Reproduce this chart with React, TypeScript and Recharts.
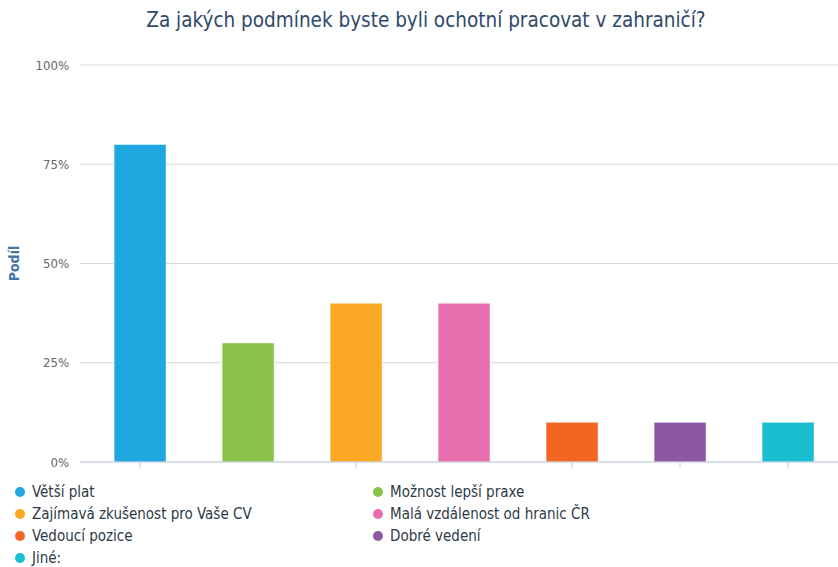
import { Bar, BarChart, CartesianGrid, Cell, Label, XAxis, YAxis } from "recharts";

const categories = [
  "Větší plat",
  "Možnost lepší praxe",
  "Zajímavá zkušenost pro Vaše CV",
  "Malá vzdálenost od hranic ČR",
  "Vedoucí pozice",
  "Dobré vedení",
  "Jiné:",
];
const shares = [80, 30, 40, 40, 10, 10, 10];
const colors = ["#1fa8e0", "#8bc34a", "#fba826", "#e86fad", "#f26522", "#8e57a3", "#1bbecf"];
const yTicks = [0, 25, 50, 75, 100];

const FONT = "'DejaVu Sans Condensed', 'DejaVu Sans', sans-serif";

const data = categories.map((name, i) => ({ name, value: shares[i] }));

export default function App(): JSX.Element {
  return (
    <div style={{ position: "absolute", left: 0, top: 0, width: 838, height: 567, overflow: "hidden", background: "#fff", fontFamily: FONT }}>
      <div style={{ position: "absolute", top: 8, left: 0, width: 852, textAlign: "center", fontSize: 20.5, color: "#2f4a6a" }}>
        Za jakých podmínek byste byli ochotní pracovat v zahraničí?
      </div>
      <BarChart width={842} height={480} data={data} margin={{ top: 65, right: 0, bottom: 0, left: 0 }} barCategoryGap="26%">
        <CartesianGrid vertical={false} stroke="#d8d8d8" />
        <XAxis
          dataKey="name"
          tick={() => <g />}
          tickLine={{ stroke: "#c0d0e6" }}
          axisLine={{ stroke: "#c0d0e6" }}
          tickSize={6}
          height={18}
          padding={{ left: 6, right: 0 }}
        />
        <YAxis
          domain={[0, 100]}
          ticks={yTicks}
          tickFormatter={(v: number) => `${v}%`}
          axisLine={false}
          tickLine={false}
          width={80}
          tickMargin={5}
          tick={{ fill: "#666", fontSize: 13, fontFamily: FONT }}
        >
          <Label
            value="Podíl"
            angle={-90}
            position="insideLeft"
            offset={14}
            textAnchor="middle"
            style={{ fill: "#4572a7", fontWeight: "bold", fontSize: 14, fontFamily: FONT, textAnchor: "middle" }}
          />
        </YAxis>
        <Bar dataKey="value" isAnimationActive={false} stroke="rgba(255,255,255,0.5)" strokeWidth={1}>
          {data.map((d, i) => (
            <Cell key={d.name} fill={colors[i]} />
          ))}
        </Bar>
      </BarChart>
      <div style={{ position: "absolute", left: 15, top: 483, width: 820, display: "grid", gridTemplateColumns: "358px 1fr", rowGap: 4, fontSize: 15, color: "#2e3a48" }}>
        {categories.map((name, i) => (
          <div key={name} style={{ display: "flex", alignItems: "center", height: 18 }}>
            <span style={{ width: 10, height: 10, borderRadius: 5, background: colors[i], marginRight: 7, display: "inline-block", flexShrink: 0 }} />
            {name}
          </div>
        ))}
      </div>
    </div>
  );
}
